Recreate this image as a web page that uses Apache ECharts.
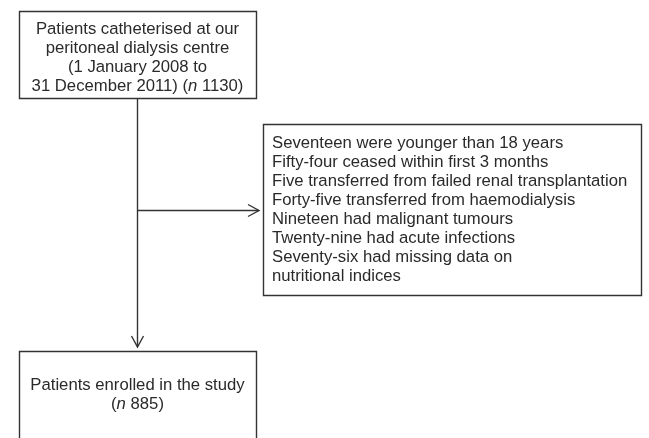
<!DOCTYPE html>
<html><head><meta charset="utf-8">
<script src="https://cdn.jsdelivr.net/npm/echarts@6/dist/echarts.min.js"></script>
<style>html,body{margin:0;padding:0;background:#fff}#c{width:649px;height:438px}</style>
</head><body><div id="c"></div>
<script>
var topLines = ["Patients catheterised at our", "peritoneal dialysis centre", "(1 January 2008 to", "31 December 2011) ({i|n} 1130)"];
var excludedLines = ["Seventeen were younger than 18 years", "Fifty-four ceased within first 3 months", "Five transferred from failed renal transplantation", "Forty-five transferred from haemodialysis", "Nineteen had malignant tumours", "Twenty-nine had acute infections", "Seventy-six had missing data on", "nutritional indices"];
var bottomLines = ["Patients enrolled in the study", "({i|n} 885)"];

var FONT = '"Liberation Sans", Arial, Helvetica, sans-serif';
var FS = 16.7;
var TXT = '#2a2a2a';
var LINE = '#333';
var rich = {i: {fontStyle: 'italic', fontFamily: FONT, fontSize: FS, fill: TXT}};

var chart = echarts.init(document.getElementById('c'), null, {renderer: 'canvas'});
var g = [];
// top box
g.push({type: 'rect', shape: {x: 19.5, y: 11.5, width: 237, height: 87}, style: {fill: '#fff', stroke: LINE, lineWidth: 1.4}});
g.push({type: 'text', x: 137.5, y: 58, style: {text: topLines.join('\n'), font: FS + 'px ' + FONT, fill: TXT, align: 'center', verticalAlign: 'middle', lineHeight: 19, rich: rich}});
// vertical line
g.push({type: 'line', shape: {x1: 137.5, y1: 98, x2: 137.5, y2: 347}, style: {stroke: LINE, lineWidth: 1.4}});
g.push({type: 'polyline', shape: {points: [[131.5, 336], [137.5, 347], [143.5, 336]]}, style: {stroke: LINE, lineWidth: 1.4, fill: null}});
// horizontal line
g.push({type: 'line', shape: {x1: 137.5, y1: 210.5, x2: 259, y2: 210.5}, style: {stroke: LINE, lineWidth: 1.4}});
g.push({type: 'polyline', shape: {points: [[248, 204.5], [259, 210.5], [248, 216.5]]}, style: {stroke: LINE, lineWidth: 1.4, fill: null}});
// right box
g.push({type: 'rect', shape: {x: 263.5, y: 124.5, width: 378, height: 171}, style: {fill: '#fff', stroke: LINE, lineWidth: 1.4}});
g.push({type: 'text', x: 272, y: 134, style: {text: excludedLines.join('\n'), font: FS + 'px ' + FONT, fill: TXT, align: 'left', verticalAlign: 'top', lineHeight: 19}});
// bottom box
g.push({type: 'rect', shape: {x: 19.5, y: 351.5, width: 237, height: 100}, style: {fill: '#fff', stroke: LINE, lineWidth: 1.4}});
g.push({type: 'text', x: 137.5, y: 394.5, style: {text: bottomLines.join('\n'), font: FS + 'px ' + FONT, fill: TXT, align: 'center', verticalAlign: 'middle', lineHeight: 19, rich: rich}});

chart.setOption({animation: false, backgroundColor: '#fff', graphic: {elements: g}});
</script></body></html>
